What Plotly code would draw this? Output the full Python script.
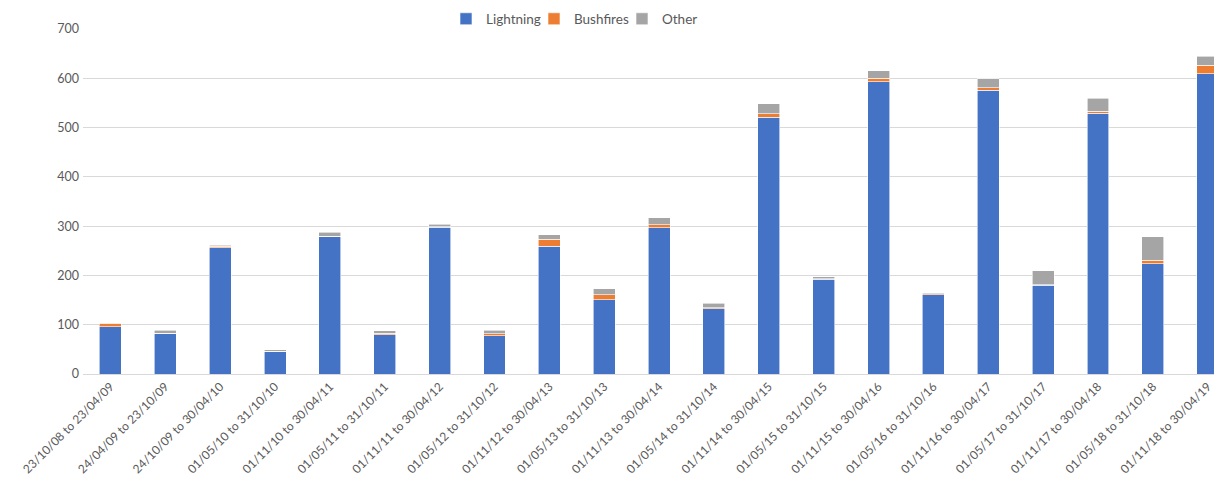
import plotly.graph_objects as go

categories = [
    "23/10/08 to 23/04/09", "24/04/09 to 23/10/09", "24/10/09 to 30/04/10",
    "01/05/10 to 31/10/10", "01/11/10 to 30/04/11", "01/05/11 to 31/10/11",
    "01/11/11 to 30/04/12", "01/05/12 to 31/10/12", "01/11/12 to 30/04/13",
    "01/05/13 to 31/10/13", "01/11/13 to 30/04/14", "01/05/14 to 31/10/14",
    "01/11/14 to 30/04/15", "01/05/15 to 31/10/15", "01/11/15 to 30/04/16",
    "01/05/16 to 31/10/16", "01/11/16 to 30/04/17", "01/05/17 to 31/10/17",
    "01/11/17 to 30/04/18", "01/05/18 to 31/10/18", "01/11/18 to 30/04/19",
]
lightning = [96, 82, 256, 45, 278, 80, 298, 78, 259, 151, 297, 132,
             521, 192, 593, 161, 576, 180, 529, 224, 609]
bushfires = [7, 1, 3, 1, 1, 3, 1, 4, 14, 10, 6, 2,
             7, 1, 7, 2, 5, 1, 4, 7, 17]
other = [1, 6, 2, 3, 9, 5, 5, 7, 10, 12, 14, 10,
         20, 4, 15, 2, 18, 28, 27, 47, 19]

series = [("Lightning", lightning, "#4472C4"),
          ("Bushfires", bushfires, "#ED7D31"),
          ("Other", other, "#A5A5A5")]

fig = go.Figure()
for name, vals, color in series:
    fig.add_trace(go.Bar(
        x=categories, y=vals, name=name,
        marker=dict(color=color, line=dict(color="white", width=0.6)),
    ))

font_family = "Lato, 'Open Sans', sans-serif"
W, H = 1214, 487
fig.update_layout(
    barmode="stack",
    bargap=0.6,
    width=W, height=H,
    margin=dict(l=75, r=0, t=21, b=121, autoexpand=False),
    plot_bgcolor="white", paper_bgcolor="white",
    font=dict(family=font_family, color="#595959", size=13),
    legend=dict(
        orientation="h", xref="container", yref="container",
        x=438 / W, xanchor="left", y=1 - 11 / H, yanchor="middle",
        font=dict(size=13.5, color="#595959"),
        traceorder="normal", itemwidth=30,
        entrywidth=43, entrywidthmode="pixels",
    ),
    xaxis=dict(
        type="category", range=[-0.5, 20.26], tickangle=-45,
        tickfont=dict(size=12, color="#595959"),
        showgrid=False, showline=True, linecolor="#d9d9d9", linewidth=1,
        ticks="", automargin=False,
    ),
    yaxis=dict(
        range=[0, 700], dtick=100, showgrid=True, gridcolor="#d9d9d9",
        gridwidth=1, zeroline=False, ticks="", ticklabelstandoff=3,
        tickfont=dict(size=12.5, color="#595959"), automargin=False,
    ),
)

fig.write_html("out.html")
